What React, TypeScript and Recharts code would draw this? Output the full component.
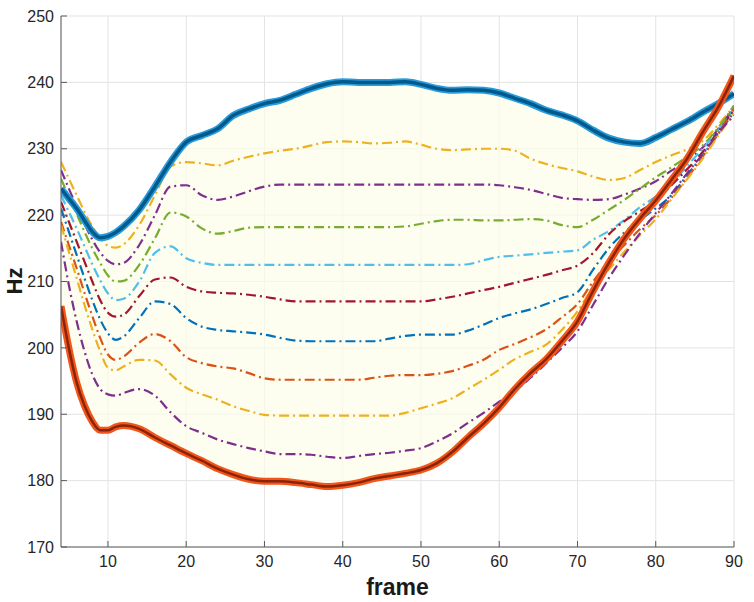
import React from "react";
import {
  ComposedChart,
  Line,
  Area,
  XAxis,
  YAxis,
  CartesianGrid,
} from "recharts";

// frame numbers (denser at the start where curves dip fast)
const frames = [
  4, 5, 6, 7, 8, 9, 10, 11, 12,
  14, 16, 18, 20,
  22, 24, 26, 28, 30,
  32, 34, 36, 38, 40,
  42, 44, 46, 48, 50,
  52, 54, 56, 58, 60,
  62, 64, 66, 68, 70,
  72, 74, 76, 78, 80,
  82, 84, 86, 88, 90,
];

// upper envelope (thick blue)
const upper = [
  224, 222.5, 221, 219.2, 217.5, 216.6, 216.8, 217.4, 218.3,
  220.8, 224.3, 228, 231,
  232, 233, 235, 236, 236.8,
  237.3, 238.2, 239.1, 239.8, 240.1,
  240, 240, 240, 240.1, 239.7,
  239.1, 238.8, 238.9, 238.8, 238.4,
  237.6, 236.8, 235.8, 235.1, 234.2,
  232.8, 231.6, 231, 230.8, 231.7,
  232.9, 234.1, 235.5, 236.8, 238.3,
];

// lower envelope (thick orange)
const lower = [
  206.3, 200, 194.8, 191.3, 188.9, 187.6, 187.6, 188.1, 188.3,
  187.8, 186.5, 185.3, 184.1,
  183, 181.8, 180.9, 180.2, 179.9,
  179.9, 179.7, 179.4, 179.1, 179.3,
  179.7, 180.3, 180.7, 181.1, 181.6,
  182.6, 184.3, 186.5, 188.6, 191,
  193.8, 196.2, 198.3, 201, 204,
  208.6, 212.8, 216.5, 219.5, 222.2,
  225.3, 228.5, 232.5, 236.3, 241,
];

const p1 = [
  228, 225.5, 223, 220.5, 218.3, 216.5, 215.4, 215.1, 215.6,
  218.5, 223, 227.3, 228,
  227.8, 227.5, 228.2, 228.8, 229.3,
  229.7, 230, 230.5, 231, 231.1,
  231, 230.8, 230.9, 231.1, 230.6,
  230, 229.8, 229.9, 230, 230,
  229.7, 228.5, 227.7, 227.1, 226.6,
  225.8, 225.3, 225.6, 226.8, 228,
  229, 229.9, 231.2, 233.6, 236.5,
];

const p2 = [
  226.8, 224, 221.3, 218.7, 216.3, 214.4, 213.1, 212.6, 212.8,
  215.5, 220, 224.3, 224.5,
  223, 222.3, 222.8, 223.6, 224.3,
  224.6, 224.6, 224.6, 224.6, 224.6,
  224.6, 224.6, 224.6, 224.6, 224.6,
  224.6, 224.6, 224.6, 224.6, 224.5,
  224.2, 223.8, 223.2, 222.6, 222.4,
  222.3, 222.4, 223.1, 224, 225.1,
  226.7, 228.3, 230.2, 233, 236.2,
];

const p3 = [
  225.5, 222.8, 220.2, 217.5, 215, 212.8, 210.9, 210, 210.1,
  212.5, 216.5, 220.4, 219.8,
  218, 217.2, 217.6, 218.1, 218.2,
  218.2, 218.2, 218.2, 218.2, 218.2,
  218.2, 218.2, 218.2, 218.3, 218.7,
  219.1, 219.3, 219.3, 219.2, 219.2,
  219.3, 219.4, 219.2, 218.5, 218.2,
  219.3, 220.8, 222.3, 224, 225.7,
  227.2, 228.8, 230.5, 233.2, 236.5,
];

const p4 = [
  223, 220.5, 218, 215.3, 212.6, 210.2, 208.2, 207.2, 207.4,
  210, 214.3, 215.3, 213.5,
  212.8, 212.5, 212.5, 212.5, 212.5,
  212.5, 212.5, 212.5, 212.5, 212.5,
  212.5, 212.5, 212.5, 212.5, 212.5,
  212.5, 212.5, 212.6, 213.2, 213.7,
  213.9, 214.1, 214.3, 214.5, 214.7,
  216.3, 217.6, 219.3, 221.2, 222.8,
  224.7, 227.4, 230, 232.8, 236,
];

const p5 = [
  222, 219, 216, 213, 210, 207.2, 205.3, 204.7, 205,
  207.8, 210.3, 210.6, 209.2,
  208.5, 208.3, 208.2, 208, 207.7,
  207.3, 207, 207, 207, 207,
  207, 207, 207, 207, 207,
  207.3, 207.7, 208.2, 208.7, 209.2,
  209.8, 210.4, 211, 211.7, 212.4,
  214.3, 217.1, 219.1, 220.6, 222.2,
  224.5, 226.9, 229.5, 232.6, 235.8,
];

const p6 = [
  221, 217.5, 214, 210.5, 207.2, 204.3, 202.2, 201.2, 201.7,
  204.5, 207, 206.6, 204.5,
  203.2, 202.7, 202.5, 202.3, 202,
  201.5, 201.1, 201, 201, 201,
  201, 201, 201.4, 201.8, 202,
  202, 202, 202.6, 203.5, 204.5,
  205.2, 205.8, 206.6, 207.5, 208.4,
  211.8, 215, 217.4, 219.3, 221,
  223, 226, 229, 232.3, 235.5,
];

const p7 = [
  219, 215.5, 212, 208.3, 204.8, 201.5, 199, 198.2, 198.7,
  200.8, 202.1, 201, 198.6,
  197.7, 197.2, 196.9, 196.2, 195.4,
  195.2, 195.2, 195.2, 195.2, 195.2,
  195.2, 195.5, 195.8, 195.9, 195.9,
  196.1, 196.5, 197.3, 198.2, 199.7,
  200.6, 201.6, 202.8, 204.6, 206.6,
  210, 213, 215.5, 217.9, 220,
  222.6, 225.6, 228.8, 232.3, 236,
];

const p8 = [
  218.5, 214.5, 210.5, 206.5, 202.8, 199.5, 197, 196.6, 197.2,
  198.2, 198.1, 196, 194,
  193, 192.2, 191.2, 190.5, 189.9,
  189.8, 189.8, 189.8, 189.8, 189.8,
  189.8, 189.8, 189.8, 190.2, 190.9,
  191.6, 192.4, 193.8, 195.2, 196.7,
  198.3, 199.4, 200.5, 202.7, 205.5,
  209.2, 211.8, 214.5, 217, 219.4,
  222.4, 225.4, 228.5, 232, 235.3,
];

const p9 = [
  216, 209.5, 204, 199.5, 196, 193.8, 193, 192.8, 193.2,
  193.8, 192.8, 190.3, 188.2,
  187.2, 186.2, 185.5, 184.9, 184.4,
  184, 184, 183.9, 183.6, 183.4,
  183.7, 184, 184.2, 184.5, 184.9,
  185.9, 187.1, 188.7, 190.2, 191.9,
  193.5, 195.5, 197.7, 200, 202.5,
  206.5, 210.5, 214, 217.3, 220.3,
  223.2, 226.3, 229.2, 232.4, 235,
];

const xTicks = [10, 20, 30, 40, 50, 60, 70, 80, 90];
const yTicks = [170, 180, 190, 200, 210, 220, 230, 240, 250];

const dashSeries = [
  { key: "p1", values: p1, color: "#EDB120" },
  { key: "p2", values: p2, color: "#7E2F8E" },
  { key: "p3", values: p3, color: "#77AC30" },
  { key: "p4", values: p4, color: "#4DBEEE" },
  { key: "p5", values: p5, color: "#A2142F" },
  { key: "p6", values: p6, color: "#0072BD" },
  { key: "p7", values: p7, color: "#D95319" },
  { key: "p8", values: p8, color: "#EDB120" },
  { key: "p9", values: p9, color: "#7E2F8E" },
];

const data = frames.map((f, i) => {
  const row: Record<string, any> = {
    frame: f,
    upper: upper[i],
    lower: lower[i],
    band: [lower[i], upper[i]],
  };
  dashSeries.forEach((s) => {
    row[s.key] = s.values[i];
  });
  return row;
});

const FONT = "'Liberation Sans', Arial, Helvetica, sans-serif";
const axisColor = "#5a5a5a";
const tickStyle = { fill: "#262626", fontSize: 16, fontFamily: FONT };

const App = () => {
  return (
    <div style={{ position: "absolute", left: 0, top: 0, width: 754, height: 602, background: "#fff" }}>
      <ComposedChart
        width={754}
        height={602}
        data={data}
        margin={{ top: 16, right: 20, bottom: 0, left: 0 }}
      >
        <CartesianGrid stroke="#e3e3e3" strokeWidth={1} />
        <XAxis
          dataKey="frame"
          type="number"
          domain={[4, 90]}
          ticks={xTicks}
          height={55}
          stroke={axisColor}
          tickSize={-6}
          tickMargin={15}
          tick={tickStyle}
          allowDataOverflow
          label={{
            value: "frame",
            position: "insideBottom",
            offset: 7,
            style: { fontFamily: FONT, fontSize: 23, fontWeight: "bold", fill: "#1a1a1a" },
          }}
        />
        <XAxis
          xAxisId="top"
          orientation="top"
          type="number"
          domain={[4, 90]}
          ticks={xTicks}
          height={0}
          stroke={axisColor}
          tickSize={-6}
          tick={false}
          allowDataOverflow
        />
        <YAxis
          type="number"
          domain={[170, 250]}
          ticks={yTicks}
          width={61}
          stroke={axisColor}
          tickSize={-6}
          tickMargin={13}
          tick={tickStyle}
          allowDataOverflow
          label={{
            content: () => (
              <text
                x={22}
                y={281}
                transform="rotate(-90 22 281)"
                textAnchor="middle"
                style={{ fontFamily: FONT, fontSize: 22, fontWeight: "bold", fill: "#1a1a1a" }}
              >
                Hz
              </text>
            ),
          }}
        />
        <YAxis
          yAxisId="right"
          orientation="right"
          type="number"
          domain={[170, 250]}
          ticks={yTicks}
          width={0}
          stroke={axisColor}
          tickSize={-6}
          tick={false}
          allowDataOverflow
        />
        <Area
          dataKey="band"
          type="monotone"
          stroke="none"
          fill="#fdfdea"
          fillOpacity={0.7}
          isAnimationActive={false}
        />
        {dashSeries.map((s) => (
          <Line
            key={s.key}
            dataKey={s.key}
            type="monotone"
            stroke={s.color}
            strokeWidth={2.2}
            strokeDasharray="10 4 2 4"
            dot={false}
            isAnimationActive={false}
          />
        ))}
        <Line dataKey="upper" type="monotone" stroke="#2a9bd8" strokeWidth={7} dot={false} isAnimationActive={false} />
        <Line dataKey="upper" type="monotone" stroke="#005a8e" strokeWidth={3.5} dot={false} isAnimationActive={false} />
        <Line dataKey="lower" type="monotone" stroke="#f2551a" strokeWidth={7} dot={false} isAnimationActive={false} />
        <Line dataKey="lower" type="monotone" stroke="#8a2408" strokeWidth={2.5} dot={false} isAnimationActive={false} />
      </ComposedChart>
    </div>
  );
};

export default App;
